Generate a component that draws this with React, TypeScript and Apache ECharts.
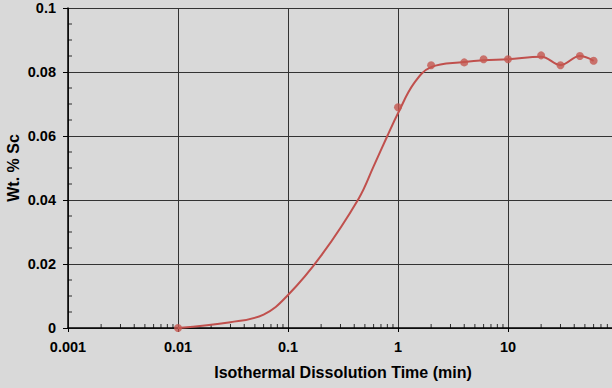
import React, { useEffect, useRef } from "react";
import * as echarts from "echarts";

// Measured data points (time in min, Wt. % Sc)
const timeMin = [0.01, 1, 2, 4, 6, 10, 20, 30, 45, 60];
const wtPctSc = [0, 0.069, 0.0821, 0.083, 0.084, 0.084, 0.0852, 0.0821, 0.085, 0.0835];

// Trend curve
const curveTime = [0.01, 0.03, 0.06, 0.1, 0.2, 0.44, 0.6, 0.8, 1, 1.4, 2, 4, 6, 10, 20, 30, 45, 60];
const curveWt = [0, 0.0018, 0.0042, 0.0103, 0.0226, 0.0405, 0.0505, 0.06, 0.0671, 0.0765, 0.0815, 0.0831, 0.0837, 0.084, 0.0848, 0.0822, 0.085, 0.0835];

// Axis ticks
const xDecades = [0.001, 0.01, 0.1, 1, 10];
const xMinorMantissas = [2, 3, 4, 5, 6, 7, 8, 9];
const yMinorTicks = [0.005, 0.01, 0.015, 0.025, 0.03, 0.035, 0.045, 0.05, 0.055, 0.065, 0.07, 0.075, 0.085, 0.09, 0.095];
const xTickLabels = ["0.001", "0.01", "0.1", "1", "10"];

const FONT = "'Liberation Sans', Arial, Helvetica, sans-serif";

export default function App() {
  const ref = useRef<HTMLDivElement>(null);

  useEffect(() => {
    document.body.style.margin = "0";
    if (!ref.current) return;
    const chart = echarts.init(ref.current, undefined, { renderer: "svg" });

    const xMinor: number[][] = [];
    xDecades.forEach((d) => xMinorMantissas.forEach((m) => xMinor.push([+(d * m).toPrecision(3), 0])));

    chart.setOption({
      animation: false,
      backgroundColor: "#d9d9d9",
      grid: { left: 68, top: 8, right: -6, bottom: 60, outerBoundsMode: "none" },
      xAxis: {
        type: "log",
        logBase: 10,
        min: 0.001,
        max: 100,
        name: "Isothermal Dissolution Time (min)",
        nameLocation: "middle",
        nameGap: 36,
        nameTextStyle: { fontFamily: FONT, fontWeight: "bold", fontSize: 16, color: "#000" },
        axisLine: { show: true, onZero: false, lineStyle: { color: "#000", width: 1.5 } },
        axisTick: { show: true, length: 4, lineStyle: { color: "#000", width: 1 } },
        axisLabel: {
          margin: 11,
          fontFamily: FONT,
          fontWeight: "bold",
          fontSize: 14.5,
          color: "#000",
          showMaxLabel: false,
          formatter: (v: number) => {
            const i = xDecades.findIndex((d) => Math.abs(d - v) / d < 1e-6);
            return i >= 0 ? xTickLabels[i] : "";
          },
        },
        splitLine: { show: true, lineStyle: { color: "#333", width: 1 } },
      },
      yAxis: {
        type: "value",
        min: 0,
        max: 0.1,
        interval: 0.02,
        name: "Wt. % Sc",
        nameLocation: "middle",
        nameGap: 47,
        nameMoveOverlap: false,
        nameRotate: 90,
        nameTextStyle: { fontFamily: FONT, fontWeight: "bold", fontSize: 16, color: "#000" },
        axisLine: { show: true, lineStyle: { color: "#000", width: 1.5 } },
        axisTick: { show: true, length: 5, lineStyle: { color: "#000", width: 1 } },
        axisLabel: {
          margin: 12,
          fontFamily: FONT,
          fontWeight: "bold",
          fontSize: 14.5,
          color: "#000",
        },
        splitLine: { show: true, lineStyle: { color: "#333", width: 1 } },
      },
      series: [
        {
          type: "scatter",
          data: xMinor,
          symbol: "rect",
          symbolSize: [1, 4],
          symbolOffset: [0, -2],
          itemStyle: { color: "#000" },
          silent: true,
          clip: false,
          z: 1,
        },
        {
          type: "scatter",
          data: yMinorTicks.map((v) => [0.001, v]),
          symbol: "rect",
          symbolSize: [4, 1],
          symbolOffset: [2, 0],
          itemStyle: { color: "#000" },
          silent: true,
          clip: false,
          z: 1,
        },
        {
          type: "line",
          data: curveTime.map((t, i) => [t, curveWt[i]]),
          smooth: 0.4,
          showSymbol: false,
          symbol: "none",
          lineStyle: { color: "#c0504d", width: 2 },
          silent: true,
          z: 3,
        },
        {
          type: "scatter",
          data: timeMin.map((t, i) => [t, wtPctSc[i]]),
          symbol: "circle",
          symbolSize: 8,
          itemStyle: { color: "#c4564f" },
          clip: false,
          z: 4,
        },
      ],
    });

    return () => chart.dispose();
  }, []);

  return <div ref={ref} style={{ width: 612, height: 388 }} />;
}
